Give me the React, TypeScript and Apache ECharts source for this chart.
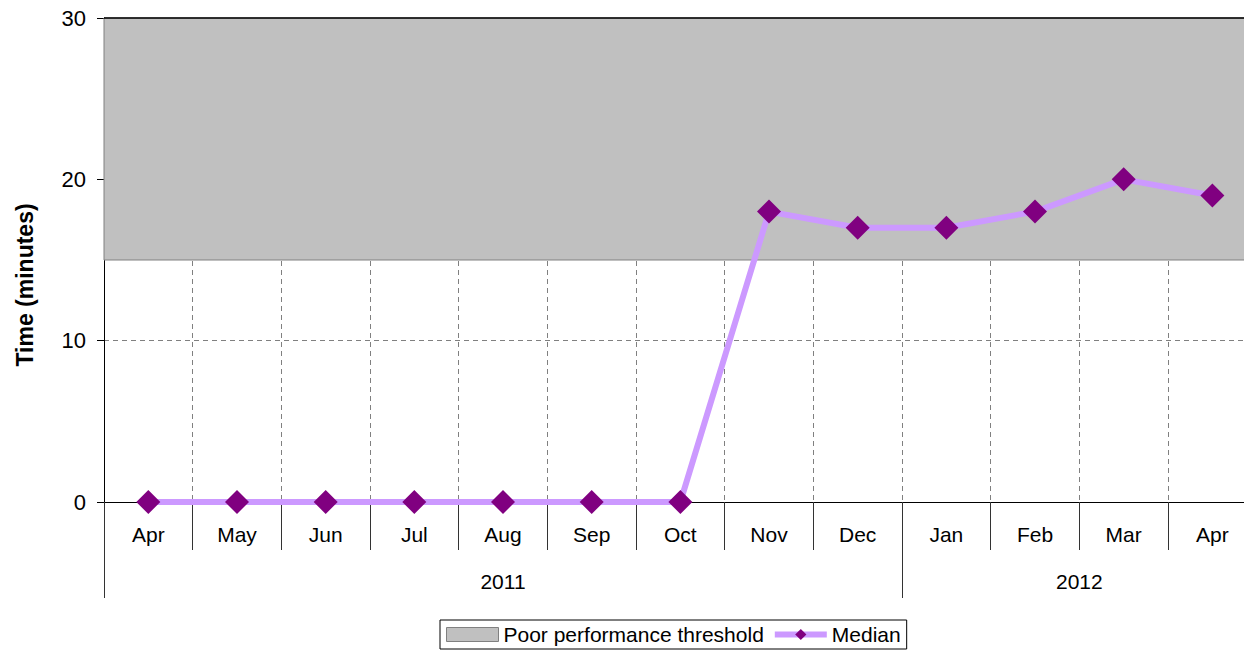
import React, { useEffect, useRef } from "react";
import * as echarts from "echarts";

const months = ["Apr", "May", "Jun", "Jul", "Aug", "Sep", "Oct", "Nov", "Dec", "Jan", "Feb", "Mar", "Apr"];
const years = ["2011", "2012"];
const monthsPerYear = [9, 4];
const median = [0, 0, 0, 0, 0, 0, 0, 18, 17, 17, 18, 20, 19];
const thresholdLow = 15;
const thresholdHigh = 30;
const yTicks = [0, 10, 20, 30];

const FONT = "'Liberation Sans', Arial, sans-serif";

export default function App() {
  const ref = useRef<HTMLDivElement>(null);
  useEffect(() => {
    if (!ref.current) return;
    const chart = echarts.init(ref.current, undefined, { renderer: "svg" });

    const bounds: number[] = [0];
    const centers: number[] = [];
    let acc = 0;
    monthsPerYear.forEach((c) => {
      centers.push(acc + c / 2);
      acc += c;
      bounds.push(acc);
    });

    chart.setOption({
      animation: false,
      textStyle: { fontFamily: FONT, color: "#000" },
      grid: {
        left: 104,
        top: 18,
        width: 1152.7,
        height: 484,
        containLabel: false,
        outerBoundsMode: "none",
      },
      legend: {
        left: 440,
        top: 620,
        padding: [4, 6, 4, 6],
        borderColor: "#000",
        borderWidth: 1,
        itemGap: 8,
        itemWidth: 52,
        itemHeight: 14,
        textStyle: { fontFamily: FONT, fontSize: 21, color: "#000" },
        data: [
          {
            name: "Poor performance threshold",
            icon: "rect",
            itemStyle: { color: "#C0C0C0", borderColor: "#808080", borderWidth: 1 },
          },
          { name: "Median", lineStyle: { width: 6, color: "#CC99FF" } },
        ],
      },
      xAxis: [
        {
          type: "category",
          data: months,
          boundaryGap: true,
          position: "bottom",
          axisLine: { show: true, lineStyle: { color: "#000", width: 1 } },
          axisTick: { show: true, interval: 0, length: 48, lineStyle: { color: "#333" } },
          axisLabel: { interval: 0, margin: 22, fontSize: 21, color: "#000", fontFamily: FONT },
          splitLine: { show: true, interval: 0, lineStyle: { color: "#808080", type: [5, 4], width: 1 } },
        },
        {
          type: "value",
          min: 0,
          max: acc,
          position: "bottom",
          axisLine: { show: false },
          splitLine: { show: false },
          axisTick: { show: true, customValues: bounds, length: 96, lineStyle: { color: "#333" } },
          axisLabel: {
            customValues: centers,
            margin: 69,
            fontSize: 21,
            color: "#000",
            fontFamily: FONT,
            formatter: (v: number) => {
              const i = centers.findIndex((c) => Math.abs(c - v) < 1e-6);
              return i >= 0 ? years[i] : "";
            },
          },
        },
      ],
      yAxis: {
        type: "value",
        min: yTicks[0],
        max: yTicks[yTicks.length - 1],
        interval: 10,
        axisLine: { show: true, lineStyle: { color: "#000", width: 1 } },
        axisTick: { show: true, length: 7, lineStyle: { color: "#000" } },
        axisLabel: { margin: 18, fontSize: 22, color: "#000", fontFamily: FONT },
        splitLine: { show: true, lineStyle: { color: "#808080", type: [5, 4], width: 1 } },
      },
      graphic: [
        {
          type: "text",
          x: 25,
          y: 285,
          rotation: Math.PI / 2,
          style: {
            text: "Time (minutes)",
            fontFamily: FONT,
            fontSize: 23,
            fontWeight: "bold",
            fill: "#000",
            align: "center",
            verticalAlign: "middle",
          },
        },
      ],
      series: [
        {
          name: "Poor performance threshold",
          type: "line",
          xAxisIndex: 0,
          data: [],
          itemStyle: { color: "#C0C0C0" },
          markArea: {
            silent: true,
            itemStyle: { color: "#C0C0C0", borderColor: "#808080", borderWidth: 1 },
            data: [[{ yAxis: thresholdLow }, { yAxis: thresholdHigh }]],
          },
          markLine: {
            silent: true,
            symbol: "none",
            label: { show: false },
            lineStyle: { color: "#000", type: "solid", width: 1.5 },
            data: [{ yAxis: thresholdHigh }],
          },
        },
        {
          name: "Median",
          type: "line",
          xAxisIndex: 0,
          data: median,
          symbol: "diamond",
          symbolSize: 24,
          lineStyle: { color: "#CC99FF", width: 6 },
          itemStyle: { color: "#800080" },
          z: 5,
        },
      ],
    });
    return () => chart.dispose();
  }, []);
  return (
    <div
      ref={ref}
      style={{ position: "absolute", left: 0, top: 0, width: 1244, height: 652, overflow: "hidden", background: "#fff" }}
    />
  );
}
